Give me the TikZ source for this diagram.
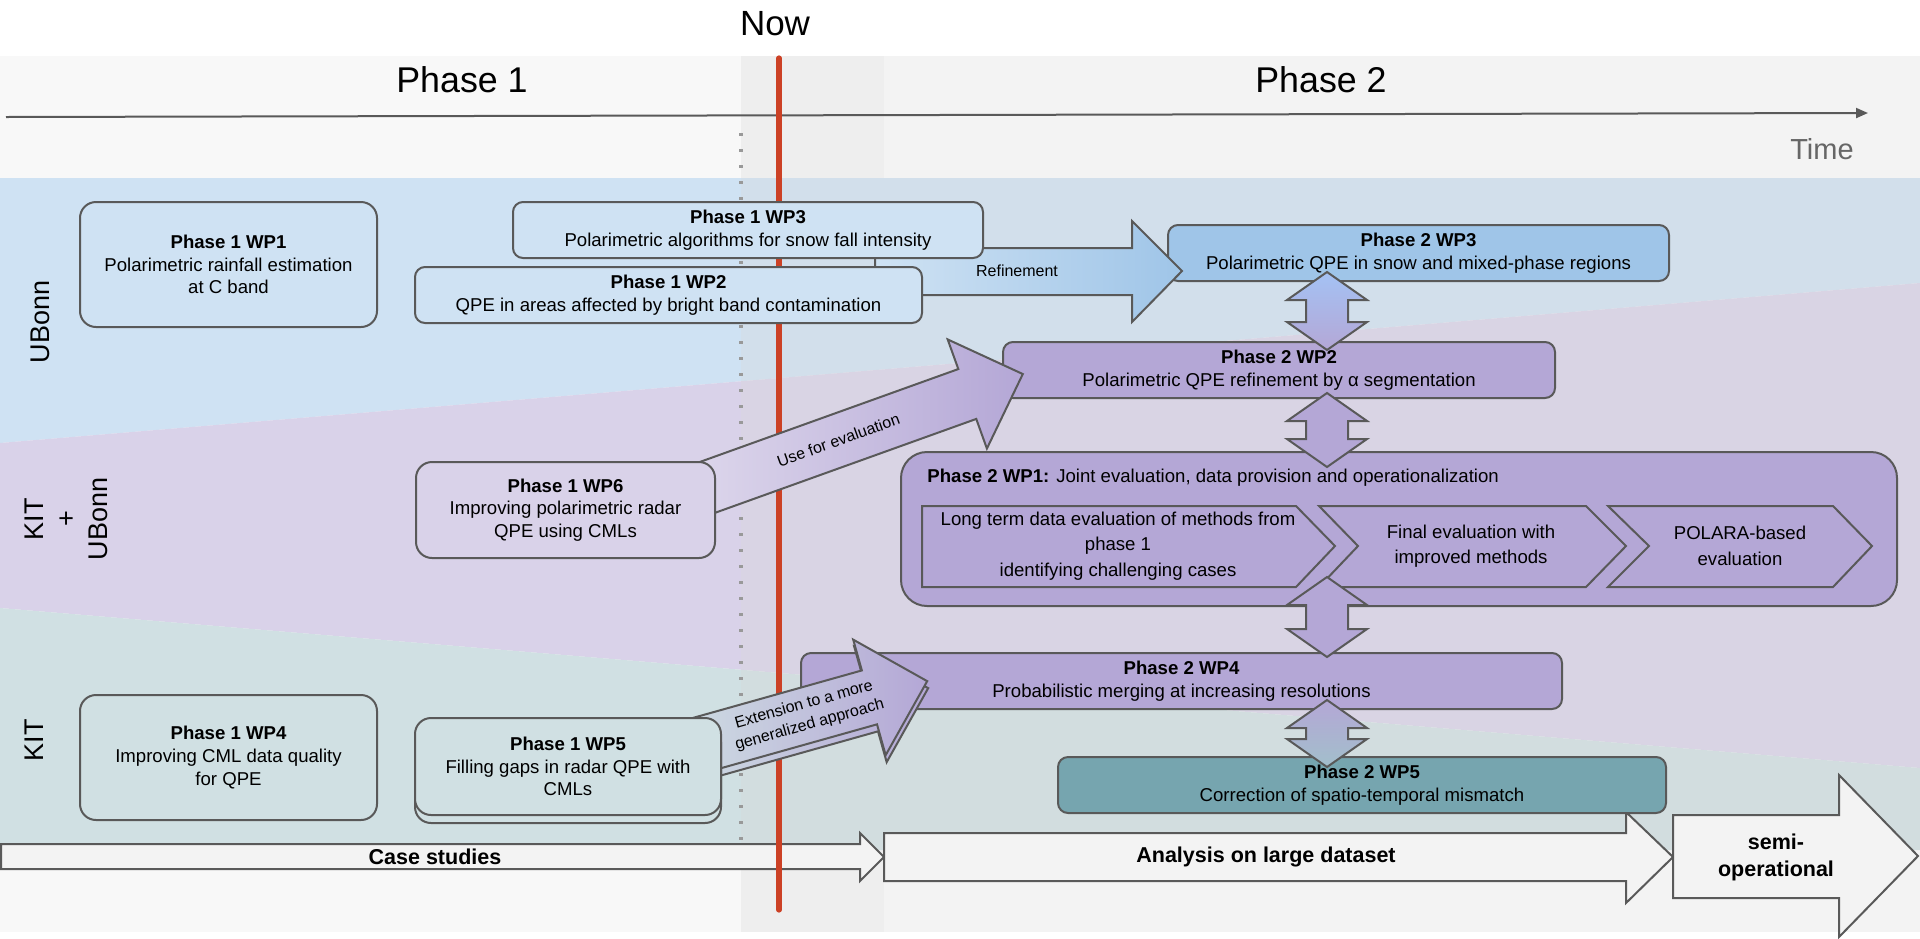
\documentclass[tikz,border=0pt]{standalone}
\usepackage{fontspec}
\setmainfont{Liberation Sans}
\usetikzlibrary{arrows.meta}
\definecolor{laneblue}{HTML}{CFE2F3}
\definecolor{lanepurple}{HTML}{D9D2E9}
\definecolor{lanegreen}{HTML}{D0E0E3}
\definecolor{phaseonebg}{HTML}{F8F8F8}
\definecolor{phasetwoov}{HTML}{D9D9D9}
\definecolor{ptwoblue}{HTML}{9FC5E8}
\definecolor{ptwopurple}{HTML}{B4A7D6}
\definecolor{ptwoteal}{HTML}{76A5AF}
\definecolor{lineC}{HTML}{595959}
\definecolor{nowred}{HTML}{CC4125}
\definecolor{dotgray}{HTML}{999999}
\definecolor{arrowfill}{HTML}{F3F3F3}
\definecolor{timegray}{HTML}{666666}
\definecolor{dblblue}{HTML}{A4C2F4}
\definecolor{dblteal}{HTML}{A2BFCB}
\tikzset{
  wpbox/.style={draw=lineC, line width=1pt, align=center, inner sep=0pt, rounded corners=5pt,
    font=\fontsize{9.3}{11.3}\selectfont},
  hdr/.style={font=\fontsize{17.9}{20}\selectfont},
  nowlbl/.style={font=\fontsize{17.5}{20}\selectfont},
  lanelbl/.style={font=\fontsize{13.5}{16}\selectfont, align=center, inner sep=0pt},
  timeline/.style={draw=lineC, line width=1pt, -{Triangle[length=6pt,width=5pt]}},
  timelbl/.style={font=\fontsize{14.5}{17}\selectfont, text=timegray},
  timearrow/.style={draw=lineC, line width=1pt, fill=arrowfill, line join=miter},
  tlbl/.style={font=\bfseries\fontsize{10.75}{13.5}\selectfont, align=center},
  fatarrow/.style={draw=lineC, line width=1pt, line join=miter},
  arrlbl/.style={font=\fontsize{8}{10.5}\selectfont, align=center, inner sep=0pt},
  dblarrow/.style={draw=lineC, line width=1pt, line join=miter},
  chevron/.style={draw=lineC, line width=1pt, fill=ptwopurple, line join=miter},
  chevlbl/.style={font=\fontsize{9.3}{12.7}\selectfont, align=center, inner sep=0pt},
  dotline/.style={draw=dotgray, line width=2pt, dash pattern=on 1.6pt off 6.4pt},
  nowline/.style={draw=nowred, line width=2.6pt, line cap=round},
}
\newcommand{\dblarr}[4]{%
  \draw[dblarrow,#4] ({#1},{#2}) -- ({#1+40},{#2+28}) -- ({#1+21},{#2+28}) -- ({#1+21},{#3-28})
   -- ({#1+40},{#3-28}) -- ({#1},{#3}) -- ({#1-40},{#3-28}) -- ({#1-21},{#3-28})
   -- ({#1-21},{#2+28}) -- ({#1-40},{#2+28}) -- cycle;}
\begin{document}
\begin{tikzpicture}[x=0.5pt,y=-0.5pt]
\useasboundingbox (0,0) rectangle (1920,938);
\fill[white] (0,0) rectangle (1920,938);
% phase backgrounds and lanes
\fill[phaseonebg] (0,56) rectangle (884,932);
\fill[laneblue] (0,178) -- (1920,178) -- (1920,283) -- (0,443) -- cycle;
\fill[lanepurple] (0,443) -- (1920,283) -- (1920,768) -- (0,608) -- cycle;
\fill[lanegreen] (0,608) -- (1920,768) -- (1920,850) -- (0,850) -- cycle;
\fill[phasetwoov, opacity=0.3] (741,56) rectangle (1920,932);

% header
\node[hdr] (ph1) at (462,80) {Phase 1};
\node[hdr] (ph2) at (1321,80) {Phase 2};
\node[nowlbl] (now) at (775,24) {Now};
\coordinate (t0) at (6,117);
\coordinate (t1) at (1868,113);
\draw[timeline] (t0) -- (t1);
\node[timelbl] (time) at (1822,149) {Time};

% lane labels
\node[lanelbl, rotate=90] (lub) at (40,322) {UBonn};
\node[lanelbl, rotate=90] (lkb) at (66,519) {KIT\\+\\UBonn};
\node[lanelbl, rotate=90] (lkit) at (34,740) {KIT};

% bottom timeline arrows
\draw[timearrow] (1,844) -- (860,844) -- (860,833) -- (884,857) -- (860,881) -- (860,869) -- (1,869) -- cycle;
\node[tlbl] (cs) at (435,857) {Case studies};
\draw[timearrow] (884,833) -- (1626,833) -- (1626,812) -- (1673,857) -- (1626,903) -- (1626,881) -- (884,881) -- cycle;
\node[tlbl] (ana) at (1266,857) {Analysis on large dataset};
\draw[timearrow] (1673,815) -- (1839,815) -- (1839,775) -- (1918,856) -- (1839,937) -- (1839,898) -- (1673,898) -- cycle;
\node[tlbl] (semi) at (1776,857) {semi-\\operational};

% now lines
\draw[dotline] (741,133) -- (741,840);
\draw[nowline] (779,58) -- (779,910);

% phase 2 boxes
\node[wpbox, fill=ptwoblue, minimum width=250.5pt, minimum height=28pt] (p2wp3) at (1418.5,253)
  {\textbf{Phase 2 WP3}\\Polarimetric QPE in snow and mixed-phase regions};
\node[wpbox, fill=ptwopurple, minimum width=276pt, minimum height=28pt] (p2wp2) at (1279,370)
  {\textbf{Phase 2 WP2}\\Polarimetric QPE refinement by α segmentation};
\node[wpbox, fill=ptwopurple, minimum width=498pt, minimum height=77pt, rounded corners=13pt] (p2wp1) at (1399,529) {};
\node[anchor=west, inner sep=0pt, font=\fontsize{9.3}{11}\selectfont] (p2wp1t) at (927,478)
  {\textbf{Phase 2 WP1:} Joint evaluation, data provision and operationalization};
\draw[chevron] (922,506) -- (1296,506) -- (1335,546) -- (1296,587) -- (922,587) -- cycle;
\draw[chevron] (1319,506) -- (1586,506) -- (1626,546) -- (1586,587) -- (1319,587) -- (1358,546) -- cycle;
\draw[chevron] (1608,506) -- (1833,506) -- (1872,546) -- (1833,587) -- (1608,587) -- (1649,546) -- cycle;
\node[chevlbl] (ch1) at (1118,546) {Long term data evaluation of methods from\\phase 1\\identifying challenging cases};
\node[chevlbl] (ch2) at (1471,546) {Final evaluation with\\improved methods};
\node[chevlbl] (ch3) at (1740,546) {POLARA-based\\evaluation};
\node[wpbox, fill=ptwopurple, minimum width=380.5pt, minimum height=28pt] (p2wp4) at (1181.5,681)
  {\textbf{Phase 2 WP4}\\Probabilistic merging at increasing resolutions};
\node[wpbox, fill=ptwoteal, minimum width=304pt, minimum height=28pt] (p2wp5) at (1362,785)
  {\textbf{Phase 2 WP5}\\Correction of spatio-temporal mismatch};

% refinement arrow
\draw[fatarrow, left color=laneblue, right color=ptwoblue] (875,248) -- (1132,248) -- (1132,221) -- (1182,271)
  -- (1132,322) -- (1132,295) -- (875,295) -- cycle;
\node[arrlbl] (refl) at (1017,271) {Refinement};

% use for evaluation arrow
\begin{scope}[shift={(708.5,487)}, rotate=19.77]
  \draw[fatarrow, left color=lanepurple!80!white, right color=ptwopurple] (-40,-26.5) -- (275,-26.5) -- (275,-58) -- (334,0)
    -- (275,58) -- (275,26.5) -- (-40,26.5) -- cycle;
  \node[arrlbl, rotate=19.77] (usel) at (138,0) {Use for evaluation};
\end{scope}

% extension arrow (with offset copy)
\begin{scope}[shift={(701,752)}, rotate=15.7]
  \draw[fatarrow, left color=lanegreen, right color=ptwopurple] (-30,-28) -- (176,-28) -- (176,-60) -- (236,0)
    -- (176,60) -- (176,28) -- (-30,28) -- cycle;
\end{scope}
\begin{scope}[shift={(700,745)}, rotate=15.7]
  \draw[fatarrow, left color=lanegreen, right color=ptwopurple] (-30,-28) -- (176,-28) -- (176,-60) -- (236,0)
    -- (176,60) -- (176,28) -- (-30,28) -- cycle;
  \node[arrlbl, rotate=15.7] (extl) at (111,0) {Extension to a more\\generalized approach};
\end{scope}

% phase 1 boxes
\node[wpbox, fill=laneblue, minimum width=148.5pt, minimum height=62.5pt, rounded corners=8pt] (wp1) at (228.5,264.5)
  {\textbf{Phase 1 WP1}\\Polarimetric rainfall estimation\\at C band};
\node[wpbox, fill=laneblue, minimum width=235pt, minimum height=28pt] (wp3) at (748,230)
  {\textbf{Phase 1 WP3}\\Polarimetric algorithms for snow fall intensity};
\node[wpbox, fill=laneblue, minimum width=253.5pt, minimum height=28pt] (wp2) at (668.5,295)
  {\textbf{Phase 1 WP2}\\QPE in areas affected by bright band contamination};
\node[wpbox, fill=lanepurple, minimum width=149.5pt, minimum height=48pt, rounded corners=8pt] (wp6) at (565.5,510)
  {\textbf{Phase 1 WP6}\\Improving polarimetric radar\\QPE using CMLs};
\node[wpbox, fill=lanegreen, minimum width=148.5pt, minimum height=62.5pt, rounded corners=8pt] (wp4) at (228.5,757.5)
  {\textbf{Phase 1 WP4}\\Improving CML data quality\\for QPE};
\node[wpbox, fill=lanegreen, minimum width=153pt, minimum height=48.5pt, rounded corners=8pt] (wp5s) at (568,774.5) {};
\node[wpbox, fill=lanegreen, minimum width=153pt, minimum height=48.5pt, rounded corners=8pt] (wp5) at (568,766.5)
  {\textbf{Phase 1 WP5}\\Filling gaps in radar QPE with\\CMLs};

% double arrows between phase 2 work packages
\dblarr{1327}{272}{350}{top color=dblblue, bottom color=ptwopurple}
\dblarr{1327}{393}{467}{fill=ptwopurple}
\dblarr{1327}{577}{657}{fill=ptwopurple}
\dblarr{1327}{700}{767}{top color=ptwopurple, bottom color=dblteal}
\end{tikzpicture}
\end{document}
